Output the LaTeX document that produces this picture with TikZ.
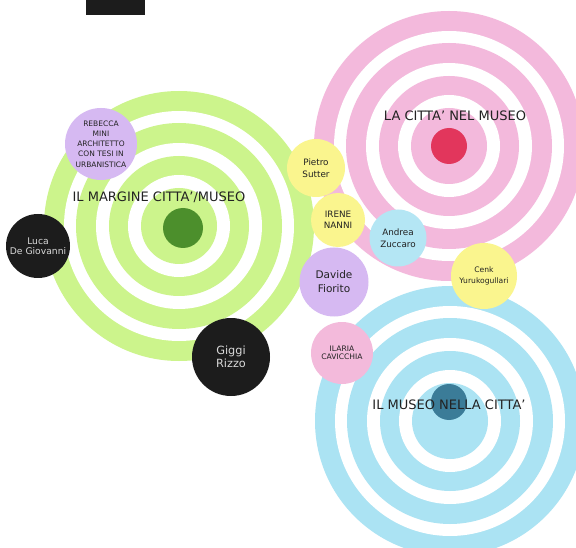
\documentclass[tikz,border=0pt]{standalone}
\usepackage{fontspec}
\setmainfont{DejaVu Sans}
\usepackage{tikz}
\usetikzlibrary{positioning}

\definecolor{limering}{HTML}{CCF48C}
\definecolor{limedot}{HTML}{4C8F2C}
\definecolor{pinkring}{HTML}{F3B9DC}
\definecolor{pinkdot}{HTML}{E2365C}
\definecolor{skyring}{HTML}{ABE3F3}
\definecolor{skydot}{HTML}{3B7C98}
\definecolor{lilac}{HTML}{D6B9F2}
\definecolor{lemon}{HTML}{FAF58E}
\definecolor{sky}{HTML}{B4E6F4}
\definecolor{rose}{HTML}{F3BADB}
\definecolor{coal}{HTML}{1C1C1C}
\definecolor{ink}{HTML}{222222}

\begin{document}
\begin{tikzpicture}[x=1pt, y=-1pt,
    person/.style={circle, align=center, inner sep=0pt, text=ink},
    dark/.style={person, fill=coal, text=black!15},
    title/.style={font=\fontsize{13}{15}\selectfont, text=ink},
    target/.style={fill=#1}
  ]
    \useasboundingbox (0,0) rectangle (576,548);
    \fill[white] (0,0) rectangle (576,548);
    \fill[coal] (86,0) rectangle (145,15);

    \coordinate (margine) at (179,226);
    \coordinate (citta) at (449,146);
    \coordinate (museo) at (450,421);
    \foreach \c/\k in {margine/limering, citta/pinkring, museo/skyring} {
      \foreach \r/\f in {135/\k, 115/white, 103/\k, 83/white, 70/\k, 51/white, 38/\k}
        \fill[target=\f] (\c) circle (\r pt);
    }
    \node[circle, fill=limedot, minimum size=40pt] (dotmargine) at (183,228) {};
    \node[circle, fill=pinkdot, minimum size=36pt] (dotcitta) at (449,146) {};
    \node[circle, fill=skydot, minimum size=36pt] (dotmuseo) at (449,402) {};

    \node[title] (tmargine) at (159,197) {IL MARGINE CITTA'/MUSEO};
    \node[title] (tcitta) at (455,116) {LA CITTA' NEL MUSEO};
    \node[title] (tmuseo) at (449,405) {IL MUSEO NELLA CITTA'};

    \node[person, fill=lilac, minimum size=72pt, font=\fontsize{7.5}{10.2}\selectfont] (rebecca) at (101,144)
      {REBECCA\\MINI\\ARCHITETTO\\CON TESI IN\\URBANISTICA};
    \node[dark, minimum size=64pt, font=\fontsize{9.2}{10.5}\selectfont] (luca) at (38,246) {Luca\\De Giovanni};
    \node[dark, minimum size=78pt, font=\fontsize{11.3}{13.5}\selectfont] (giggi) at (231,357) {Giggi\\Rizzo};
    \node[person, fill=lemon, minimum size=58pt, font=\fontsize{8.8}{12}\selectfont] (pietro) at (316,168) {Pietro\\Sutter};
    \node[person, fill=lemon, minimum size=54pt, font=\fontsize{8.8}{11.5}\selectfont] (irene) at (338,220) {IRENE\\NANNI};
    \node[person, fill=sky, minimum size=57pt, font=\fontsize{8.8}{12}\selectfont] (andrea) at (398,238) {Andrea\\Zuccaro};
    \node[person, fill=lilac, minimum size=69pt, font=\fontsize{10.5}{14}\selectfont] (davide) at (334,282) {Davide\\Fiorito};
    \node[person, fill=lemon, minimum size=66pt, font=\fontsize{7.6}{11.5}\selectfont] (cenk) at (484,276) {Cenk\\Yurukogullari};
    \node[person, fill=rose, minimum size=62pt, font=\fontsize{7.6}{8.5}\selectfont] (ilaria) at (342,353) {ILARIA\\CAVICCHIA};
\end{tikzpicture}
\end{document}
